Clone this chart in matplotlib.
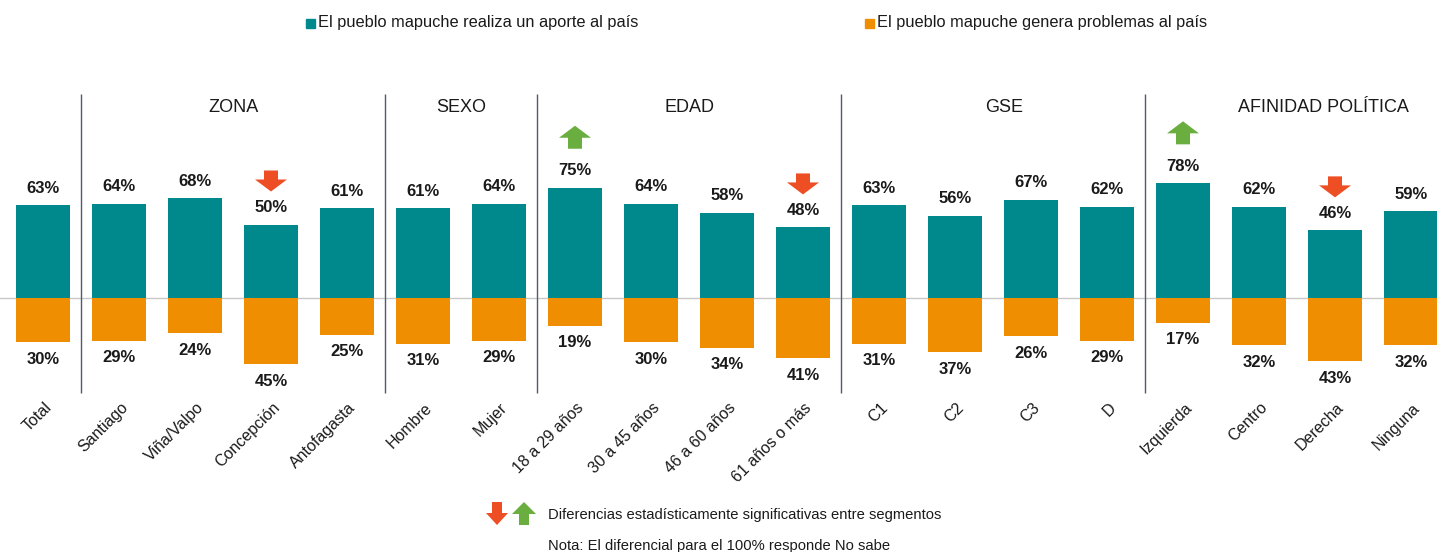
import matplotlib
matplotlib.use("Agg")
import matplotlib.pyplot as plt
from matplotlib.patches import Rectangle

plt.rcParams["font.family"] = ["Liberation Sans", "DejaVu Sans"]

# ---- data ----
categorias = ["Total", "Santiago", "Viña/Valpo", "Concepción", "Antofagasta",
              "Hombre", "Mujer", "18 a 29 años", "30 a 45 años", "46 a 60 años",
              "61 años o más", "C1", "C2", "C3", "D",
              "Izquierda", "Centro", "Derecha", "Ninguna"]
aporte = [63, 64, 68, 50, 61, 61, 64, 75, 64, 58, 48, 63, 56, 67, 62, 78, 62, 46, 59]
problemas = [30, 29, 24, 45, 25, 31, 29, 19, 30, 34, 41, 31, 37, 26, 29, 17, 32, 43, 32]
# +1 = significativamente mayor, -1 = significativamente menor
signif = [0, 0, 0, -1, 0, 0, 0, 1, 0, 0, -1, 0, 0, 0, 0, 1, 0, -1, 0]
grupos = ["ZONA", "SEXO", "EDAD", "GSE", "AFINIDAD POLÍTICA"]
grupo_tamano = [4, 2, 4, 4, 4]

serie1 = "El pueblo mapuche realiza un aporte al país"
serie2 = "El pueblo mapuche genera problemas al país"

TEAL = "#00898D"
ORANGE = "#EF8E00"
RED = "#EE4E24"
GREEN = "#6BAE40"
TXT = "#1A1A1A"

# ---- layout (pixels of the 1437x552 canvas) ----
W, H = 1437, 552
X0, DX = 43, 76          # centre of first bar, step between bars
Y0, PPU = 298, 1.47      # baseline row, pixels per percent


def px_x(p):
    return (p - X0) / DX


def px_y(p):
    return (Y0 - p) / PPU


fig = plt.figure(figsize=(W / 100, H / 100), dpi=100)
ax = fig.add_axes([0, 0, 1, 1])
ax.set_xlim(px_x(0), px_x(W))
ax.set_ylim(px_y(H), px_y(0))
ax.axis("off")

x = list(range(len(categorias)))
bw = 54 / DX
neg = [-v for v in problemas]
ax.bar(x, aporte, width=bw, color=TEAL, zorder=2)
ax.bar(x, neg, width=bw, color=ORANGE, zorder=2)
ax.axhline(0, color="#C8C8C8", lw=1, zorder=1)

off = 17 / PPU
for i in x:
    ax.text(i, aporte[i] + off, f"{aporte[i]}%", ha="center", va="center",
            fontsize=12, fontweight="bold", color=TXT)
    ax.text(i, -problemas[i] - off, f"{problemas[i]}%", ha="center", va="center",
            fontsize=12, fontweight="bold", color=TXT)
    ax.text(i + 1 / DX, px_y(400), categorias[i], rotation=45, rotation_mode="anchor",
            ha="right", va="top", fontsize=11.5, color=TXT)

    # flechas de significancia
    lab = aporte[i] + off
    aw, hw, hl = 14 / DX, 32 / DX, 12 / PPU
    if signif[i] < 0:
        top = lab + 37 / PPU
        ax.arrow(i, top, 0, -21 / PPU, width=aw, head_width=hw, head_length=hl,
                 length_includes_head=True, color=RED, lw=0)
    elif signif[i] > 0:
        base = lab + 22 / PPU
        ax.arrow(i, base, 0, 23 / PPU, width=aw, head_width=hw, head_length=hl,
                 length_includes_head=True, color=GREEN, lw=0)

# separadores y títulos de grupo
start = 1
for g, n in zip(grupos, grupo_tamano):
    ax.vlines(start - 0.5, px_y(393), px_y(94), color="#4F5B66", lw=1)
    xc = start + (n - 1) / 2
    if g == "GSE":
        xc += 0.15
    if g == "AFINIDAD POLÍTICA":
        xc += 0.35
    ax.text(xc, px_y(107), g, ha="center", va="center", fontsize=13, color=TXT)
    start += n

# leyenda
fig.patches.append(Rectangle((306 / W, 1 - 28 / H), 9 / W, 9 / H,
                             transform=fig.transFigure, color=TEAL))
fig.text(318 / W, 1 - 23 / H, serie1, ha="left", va="center", fontsize=11.8, color=TXT)
fig.patches.append(Rectangle((865 / W, 1 - 28 / H), 9 / W, 9 / H,
                             transform=fig.transFigure, color=ORANGE))
fig.text(877 / W, 1 - 23 / H, serie2, ha="left", va="center", fontsize=11.8, color=TXT)

# nota al pie
ax.arrow(px_x(497), px_y(502), 0, -23 / PPU, width=10 / DX, head_width=22 / DX,
         head_length=12 / PPU, length_includes_head=True, color=RED, lw=0)
ax.arrow(px_x(524), px_y(525), 0, 23 / PPU, width=10 / DX, head_width=24 / DX,
         head_length=12 / PPU, length_includes_head=True, color=GREEN, lw=0)
fig.text(548 / W, 1 - 515 / H, "Diferencias estadísticamente significativas entre segmentos",
         ha="left", va="center", fontsize=10.6, color=TXT)
fig.text(548 / W, 1 - 546 / H, "Nota: El diferencial para el 100% responde No sabe",
         ha="left", va="center", fontsize=10.6, color=TXT)

fig.savefig("out.png", dpi=100, facecolor="white")
